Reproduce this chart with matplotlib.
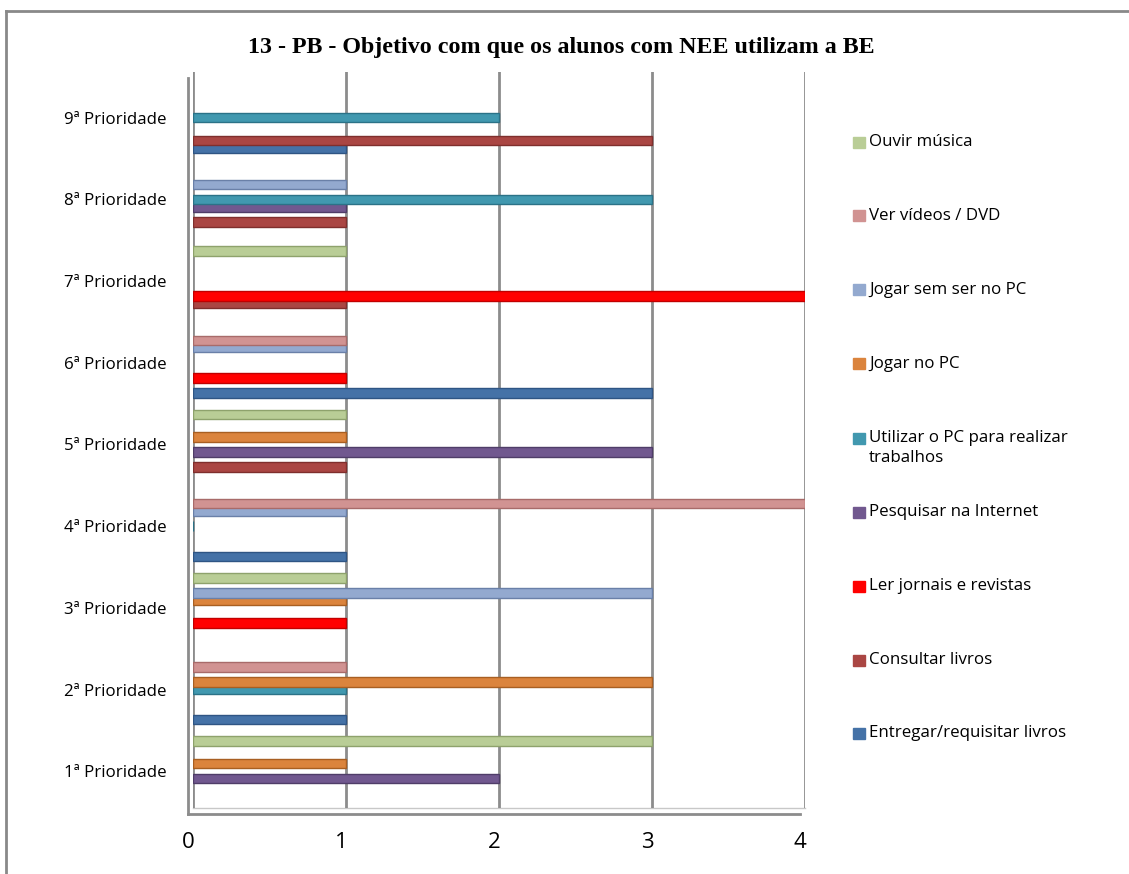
import numpy as np
import matplotlib.pyplot as plt
from matplotlib.transforms import ScaledTranslation
from matplotlib.lines import Line2D
from matplotlib.patches import Rectangle

plt.rcParams['font.family'] = ['Open Sans', 'DejaVu Sans']

title = "13 - PB - Objetivo com que os alunos com NEE utilizam a BE"
categories = ["1ª Prioridade", "2ª Prioridade", "3ª Prioridade", "4ª Prioridade",
              "5ª Prioridade", "6ª Prioridade", "7ª Prioridade", "8ª Prioridade",
              "9ª Prioridade"]
series = ["Entregar/requisitar livros", "Consultar livros", "Ler jornais e revistas",
          "Pesquisar na Internet", "Utilizar o PC para realizar\ntrabalhos",
          "Jogar no PC", "Jogar sem ser no PC", "Ver vídeos / DVD", "Ouvir música"]
colors = ["#4572A7", "#AA4643", "#FF0000", "#71588F", "#4198AF",
          "#DB843D", "#93A9CF", "#D19392", "#B9CD96"]
edges = ["#2f5584", "#7f2f2d", "#c00000", "#4f3d68", "#2b7287",
         "#a85f22", "#6a80a8", "#a86b6a", "#8ea26c"]

nan = np.nan
entregar = [nan, 1, nan, 1, nan, 3, nan, nan, 1]
consultar = [nan, nan, nan, nan, 1, nan, 1, 1, 3]
ler = [nan, nan, 1, nan, nan, 1, 4, nan, nan]
pesquisar = [2, nan, nan, nan, 3, nan, nan, 1, nan]
utilizar = [nan, 1, nan, 0, nan, nan, nan, 3, 2]
jogar_pc = [1, 3, 1, nan, 1, nan, nan, nan, nan]
jogar_sem = [nan, nan, 3, 1, nan, 1, nan, 1, nan]
ver = [nan, 1, nan, 4, nan, 1, nan, nan, nan]
ouvir = [3, nan, 1, nan, 1, nan, 1, nan, nan]
values = [entregar, consultar, ler, pesquisar, utilizar, jogar_pc, jogar_sem, ver, ouvir]
xticks = [0, 1, 2, 3, 4]

W, H = 1129, 874
fig = plt.figure(figsize=(W / 100, H / 100), dpi=100)
ax = fig.add_axes([193 / W, 1 - 808 / H, (805 - 193) / W, (808 - 72) / H])

y = np.arange(len(categories))
slot = 0.092
for i, vals in enumerate(values):
    v = np.array(vals, dtype=float)
    ok = ~np.isnan(v)
    ax.barh(y[ok] + (i - 4) * slot, v[ok], height=0.115, color=colors[i],
            edgecolor=edges[i], linewidth=1.0, zorder=3)

ax.set_xlim(0, 4)
ax.set_ylim(-0.45, 8.56)
ax.set_xticks(xticks)
ax.set_yticks(y)
ax.set_yticklabels(categories, fontsize=12.2)
ax.tick_params(axis='x', length=0, pad=17, labelsize=16)
ax.tick_params(axis='y', length=0, pad=19)
for lbl in ax.get_xticklabels():
    lbl.set_transform(lbl.get_transform() + ScaledTranslation(-5 / 100, 0, fig.dpi_scale_trans))
ax.grid(axis='x', color='#8c8c8c', linewidth=2, zorder=1)
for s in ax.spines.values():
    s.set_visible(False)

# pseudo 3D walls / floor
front = ax.transData + ScaledTranslation(-5 / 100, -6 / 100, fig.dpi_scale_trans)
ax.plot([0, 4], [-0.45, -0.45], color='#8c8c8c', lw=2, transform=front, clip_on=False, zorder=2)
ax.plot([0, 0], [-0.45, 8.56], color='#8c8c8c', lw=2, transform=front, clip_on=False, zorder=2)
ax.plot([0, 4], [-0.45, -0.45], color='#c8c8c8', lw=1, clip_on=False, zorder=1)

fig.text(561 / W, 1 - 47 / H, title, ha='center', va='center', fontsize=17.3,
         fontweight='bold', family='Liberation Serif')

# legend, Excel style slots
leg_y = [733, 660, 586, 512, 438, 364, 290, 216, 142]
for i, name in enumerate(series):
    yc = 1 - leg_y[i] / H
    fig.add_artist(Rectangle((853 / W, yc - 5.5 / H), 12 / W, 11 / H,
                             transform=fig.transFigure, color=colors[i]))
    fig.text(869 / W, yc + 8 / H, name, ha='left', va='top', fontsize=12.2,
             linespacing=1.3)

# outer chart border
fig.add_artist(Line2D([6 / W, 6 / W], [0, 1 - 11 / H], color='#898989', lw=2))
fig.add_artist(Line2D([6 / W, 1], [1 - 11 / H, 1 - 11 / H], color='#898989', lw=2))

fig.savefig('out.png', dpi=100)
